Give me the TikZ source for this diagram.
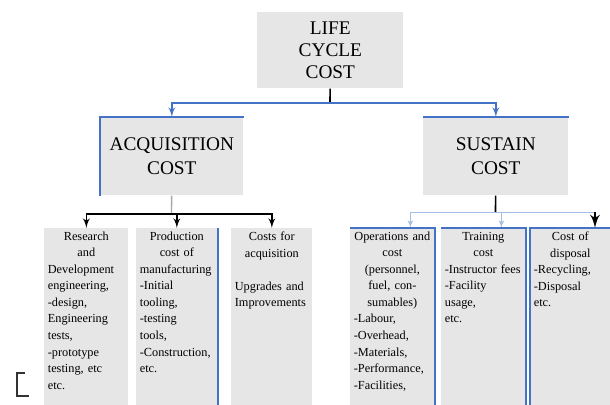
\documentclass[tikz,border=0pt]{standalone}
\usepackage{fontspec}
\setmainfont{Liberation Serif}
\usepackage{tikz}
\usetikzlibrary{arrows}
\definecolor{grisCaja}{RGB}{230,230,230}
\definecolor{azulBorde}{RGB}{68,114,196}
\definecolor{azulClaro}{RGB}{165,190,228}
\pgfdeclarelayer{lineas_capa}
\pgfsetlayers{lineas_capa,main}
\tikzstyle{raiz}=[fill=grisCaja,anchor=north west,minimum width=2.92cm,minimum height=1.52cm,align=center,font=\fontsize{11}{12.5}\selectfont]
\tikzstyle{rama}=[fill=grisCaja,anchor=north west,minimum height=1.56cm,align=center,font=\fontsize{11}{14}\selectfont]
\tikzstyle{hoja}=[fill=grisCaja,anchor=north west,inner sep=2pt,text width=1.54cm,text depth=3.45cm,align=left,font=\fontsize{7}{9.4}\selectfont]
\tikzstyle{linea}=[draw=black,line width=0.9pt]
\tikzstyle{lineagris}=[draw=black!35,line width=0.8pt]
\tikzstyle{flechaazul}=[draw=azulBorde,line width=0.9pt,-latex']
\tikzstyle{flechanegra}=[draw=black,line width=0.9pt,-latex']
\tikzstyle{lineafina}=[draw=azulClaro,line width=0.5pt,-latex']
\tikzstyle{borde}=[draw=azulBorde,line width=1pt]

\begin{document}
\begin{tikzpicture}[x=0.02cm,y=-0.02cm]
		\useasboundingbox (0,0) rectangle (610,405);
		% cajas
		\node [style=raiz] (ciclo) at (257,12) {LIFE\\CYCLE\\COST};
		\node [style=rama,minimum width=2.86cm] (adquisicion) at (100,117) {ACQUISITION\\COST};
		\node [style=rama,minimum width=2.9cm] (sostenimiento) at (423,117) {SUSTAIN\\COST};
		\node [style=hoja] (idi) at (44,228) {{\centering Research\\and\par}Development\\engineering,\\-design,\\Engineering\\tests,\\-prototype\\testing, etc\\etc.};
		\node [style=hoja,text width=1.48cm] (produccion) at (136,228) {{\centering Production\\cost of\par}manufacturing\\-Initial\\tooling,\\-testing\\tools,\\-Construction,\\etc.};
		\node [style=hoja,text width=1.48cm] (mejoras) at (231,228) {{\centering Costs for\\acquisition\par}\vspace{9.4pt}Upgrades and\\Improvements};
		\node [style=hoja] (operacion) at (350,228) {{\centering Operations and\\cost\\(personnel,\\fuel, con-\\sumables)\par}-Labour,\\-Overhead,\\-Materials,\\-Performance,\\-Facilities,};
		\node [style=hoja] (formacion) at (441,228) {{\centering Training\\cost\par}-Instructor fees\\-Facility\\usage,\\etc.};
		\node [style=hoja,text width=1.46cm] (retiro) at (530,228) {{\centering Cost of\\disposal\par}-Recycling,\\-Disposal\\etc.};
		% bordes azules
		\draw [style=borde] (adquisicion.south west) -- (adquisicion.north west) -- (adquisicion.north east);
		\draw [style=borde] (sostenimiento.north west) -- (sostenimiento.north east);
		\draw [style=borde] (produccion.north east) -- (produccion.south east);
		\draw [style=borde] (operacion.north west) -- (operacion.north east) -- (operacion.south east);
		\draw [style=borde] (formacion.north west) -- (formacion.north east) -- (formacion.south east);
		\draw [style=borde] (retiro.south west) -- (retiro.north west) -- (retiro.north east);
		% conectores
		\coordinate (rama1) at (330,103);
		\coordinate (rama2) at (171.5,214);
		\coordinate (rama3) at (495.5,212);
		\coordinate (codo) at (595,212);
		\begin{pgfonlayer}{lineas_capa}
			\path [style=linea] (ciclo) -- (rama1);
			\path [style=flechaazul] (rama1) -| (adquisicion);
			\path [style=flechaazul] (rama1) -| (sostenimiento);
			\path [style=lineagris] (adquisicion) -- (rama2);
			\path [style=flechanegra] (rama2) -| (idi);
			\path [style=flechanegra] (rama2) -| (produccion);
			\path [style=flechanegra] (rama2) -| (mejoras);
			\path [style=linea] (sostenimiento) -- (rama3);
			\path [style=lineafina] (rama3) -| ([xshift=0.36cm]operacion.north);
			\path [style=lineafina] (rama3) -| ([xshift=0.36cm]formacion.north);
			\path [draw=azulClaro,line width=0.5pt] (rama3) -- (codo);
			\path [style=flechanegra,line width=1.6pt] (codo) -- (codo |- retiro.north);
		\end{pgfonlayer}
		\draw [line width=1pt,black!80] (25,373) -- (17,373) -- (17,396) -- (29,396);
\end{tikzpicture}
\end{document}
